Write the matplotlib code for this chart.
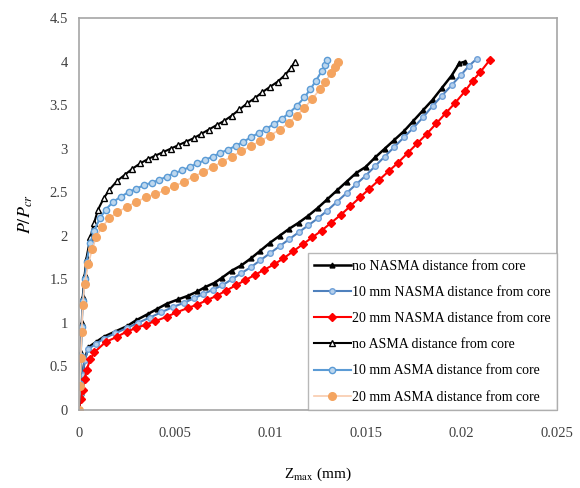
import matplotlib
matplotlib.use("Agg")
import matplotlib.pyplot as plt

plt.rcParams['font.family'] = ['Liberation Serif', 'DejaVu Serif']
plt.rcParams['mathtext.fontset'] = 'stix'

# no NASMA distance from core
x_no_nasma = [0, 0.0001, 0.0002, 0.0003, 0.0005, 0.0009, 0.0013, 0.0019, 0.0025, 0.0030,
              0.0036, 0.0041, 0.0046, 0.0052, 0.0057, 0.0062, 0.0066, 0.0071, 0.0075, 0.0080,
              0.0085, 0.0090, 0.0095, 0.0100, 0.0105, 0.0110, 0.0115, 0.0120, 0.0125, 0.0130,
              0.0135, 0.0140, 0.0145, 0.0150, 0.0155, 0.0160, 0.0165, 0.0170, 0.0175, 0.0180,
              0.0185, 0.0190, 0.0195, 0.0199, 0.0202]
y_no_nasma = [0, 0.2, 0.4, 0.58, 0.72, 0.78, 0.84, 0.9, 0.96, 1.03,
              1.1, 1.16, 1.22, 1.27, 1.31, 1.36, 1.41, 1.46, 1.52, 1.6,
              1.66, 1.74, 1.83, 1.92, 2.0, 2.08, 2.15, 2.23, 2.32, 2.42,
              2.52, 2.62, 2.72, 2.79, 2.9, 3.0, 3.1, 3.2, 3.32, 3.44,
              3.56, 3.7, 3.84, 3.98, 4.0]

# 10 mm NASMA distance from core
x_10_nasma = [0, 0.0001, 0.0002, 0.0003, 0.0005, 0.0009, 0.0013, 0.0019, 0.0025, 0.0031,
              0.0037, 0.0043, 0.0049, 0.0055, 0.0060, 0.0065, 0.0070, 0.0075, 0.0080, 0.0085,
              0.0090, 0.0095, 0.0100, 0.0105, 0.0110, 0.0115, 0.0120, 0.0125, 0.0130, 0.0135,
              0.0140, 0.0145, 0.0150, 0.0155, 0.0160, 0.0165, 0.0170, 0.0175, 0.0180, 0.0185,
              0.0190, 0.0195, 0.0200, 0.0204, 0.0208]
y_10_nasma = [0, 0.2, 0.4, 0.57, 0.7, 0.76, 0.82, 0.88, 0.94, 1.0,
              1.06, 1.12, 1.18, 1.23, 1.28, 1.33, 1.38, 1.43, 1.5, 1.57,
              1.64, 1.72, 1.8, 1.88, 1.96, 2.04, 2.12, 2.2, 2.29, 2.39,
              2.49, 2.59, 2.69, 2.8, 2.91, 3.02, 3.13, 3.24, 3.36, 3.49,
              3.61, 3.73, 3.85, 3.95, 4.03]

# 20 mm NASMA distance from core
x_20_nasma = [0, 0.0001, 0.0002, 0.0003, 0.0004, 0.0006, 0.0008, 0.0014, 0.0020, 0.0025,
              0.0030, 0.0035, 0.0040, 0.0046, 0.0051, 0.0057, 0.0062, 0.0067, 0.0072, 0.0077,
              0.0082, 0.0087, 0.0092, 0.0097, 0.0102, 0.0107, 0.0112, 0.0117, 0.0122, 0.0127,
              0.0132, 0.0137, 0.0142, 0.0147, 0.0152, 0.0157, 0.0162, 0.0167, 0.0172, 0.0177,
              0.0182, 0.0187, 0.0192, 0.0197, 0.0202, 0.0206, 0.0210, 0.0215]
y_20_nasma = [0, 0.12, 0.23, 0.35, 0.46, 0.58, 0.66, 0.78, 0.84, 0.9,
              0.94, 0.98, 1.02, 1.07, 1.12, 1.17, 1.21, 1.26, 1.31, 1.37,
              1.43, 1.49, 1.55, 1.61, 1.67, 1.74, 1.82, 1.9, 1.98, 2.06,
              2.15, 2.24, 2.34, 2.44, 2.54, 2.64, 2.74, 2.84, 2.95, 3.06,
              3.17, 3.29, 3.41, 3.53, 3.66, 3.78, 3.88, 4.02]

# no ASMA distance from core
x_no_asma = [0, 0.00005, 0.0001, 0.00015, 0.0002, 0.0003, 0.0004, 0.0006, 0.0008, 0.0010,
             0.0013, 0.0016, 0.0020, 0.0024, 0.0028, 0.0032, 0.0036, 0.0040, 0.0044, 0.0048,
             0.0052, 0.0056, 0.0060, 0.0064, 0.0068, 0.0072, 0.0076, 0.0080, 0.0084, 0.0088,
             0.0092, 0.0096, 0.0100, 0.0104, 0.0108, 0.0111, 0.0113]
y_no_asma = [0, 0.3, 0.65, 1.0, 1.3, 1.55, 1.75, 1.98, 2.15, 2.3,
             2.43, 2.53, 2.63, 2.7, 2.77, 2.83, 2.88, 2.92, 2.96, 3.0,
             3.04, 3.08, 3.12, 3.17, 3.22, 3.27, 3.32, 3.38, 3.45, 3.52,
             3.58, 3.65, 3.71, 3.77, 3.85, 3.93, 4.0]

# 10 mm ASMA distance from core
x_10_asma = [0, 0.00005, 0.0001, 0.00015, 0.0002, 0.0003, 0.0004, 0.0006, 0.0008, 0.0011,
             0.0014, 0.0018, 0.0022, 0.0026, 0.0030, 0.0034, 0.0038, 0.0042, 0.0046, 0.0050,
             0.0054, 0.0058, 0.0062, 0.0066, 0.0070, 0.0074, 0.0078, 0.0082, 0.0086, 0.0090,
             0.0094, 0.0098, 0.0102, 0.0106, 0.0110, 0.0114, 0.0118, 0.0121, 0.0124, 0.0127,
             0.0129, 0.0130]
y_10_asma = [0, 0.3, 0.62, 0.95, 1.25, 1.5, 1.7, 1.92, 2.06, 2.2,
             2.3, 2.39, 2.45, 2.5, 2.54, 2.58, 2.61, 2.64, 2.68, 2.72,
             2.75, 2.79, 2.83, 2.87, 2.91, 2.95, 2.99, 3.03, 3.08, 3.13,
             3.18, 3.23, 3.28, 3.34, 3.41, 3.49, 3.59, 3.68, 3.78, 3.89,
             3.96, 4.02]

# 20 mm ASMA distance from core
x_20_asma = [0, 0.00005, 0.0001, 0.00015, 0.0002, 0.0003, 0.0005, 0.0007, 0.0009, 0.0012,
             0.0016, 0.0020, 0.0025, 0.0030, 0.0035, 0.0040, 0.0045, 0.0050, 0.0055, 0.0060,
             0.0065, 0.0070, 0.0075, 0.0080, 0.0085, 0.0090, 0.0095, 0.0100, 0.0105, 0.0110,
             0.0114, 0.0118, 0.0122, 0.0126, 0.0129, 0.0132, 0.0134, 0.01355]
y_20_asma = [0, 0.27, 0.6, 0.9, 1.2, 1.45, 1.68, 1.85, 1.98, 2.1,
             2.2, 2.27, 2.33, 2.39, 2.44, 2.48, 2.52, 2.57, 2.62, 2.68,
             2.73, 2.79, 2.85, 2.91, 2.97, 3.03, 3.09, 3.15, 3.22, 3.3,
             3.38, 3.47, 3.57, 3.68, 3.77, 3.87, 3.94, 4.0]

x_ticks = [0, 0.005, 0.01, 0.015, 0.02, 0.025]
x_tick_labels = ['0', '0.005', '0.01', '0.015', '0.02', '0.025']
y_ticks = [0, 0.5, 1, 1.5, 2, 2.5, 3, 3.5, 4, 4.5]
y_tick_labels = ['0', '0.5', '1', '1.5', '2', '2.5', '3', '3.5', '4', '4.5']

fig = plt.figure(figsize=(5.8, 4.88), dpi=100)
ax = fig.add_axes([0.136, 0.160, 0.824, 0.803])

ax.plot(x_no_nasma, y_no_nasma, color='black', lw=1.8, marker='^', ms=3.5,
        label='no NASMA distance from core')
ax.plot(x_10_nasma, y_10_nasma, color='#4F81BD', lw=1.5, marker='o', ms=4,
        mfc='#B4CFEC', mec='#6FA0D8', label='10 mm NASMA distance from core')
ax.plot(x_20_nasma, y_20_nasma, color='#FF0000', lw=1.5, marker='D', ms=4.5,
        mfc='#FF0000', mec='#FF0000', label='20 mm NASMA distance from core')
ax.plot(x_no_asma, y_no_asma, color='black', lw=1.5, marker='^', ms=5,
        mfc='white', mec='black', label='no ASMA distance from core')
ax.plot(x_10_asma, y_10_asma, color='#5B9BD5', lw=1.5, marker='o', ms=4.5,
        mfc='#BDD7EE', mec='#5B9BD5', label='10 mm ASMA distance from core')
ax.plot(x_20_asma, y_20_asma, color='#F8CBAD', lw=1.2, marker='o', ms=5.5,
        mfc='#F4A460', mec='#F4A460', label='20 mm ASMA distance from core')

ax.set_xlim(0, 0.025)
ax.set_ylim(0, 4.5)
ax.set_xticks(x_ticks)
ax.set_xticklabels(x_tick_labels)
ax.set_yticks(y_ticks)
ax.set_yticklabels(y_tick_labels)
ax.tick_params(length=0, labelsize=10.5, colors='#404040', pad=8)
ax.tick_params(axis='x', pad=12)

for s in ax.spines.values():
    s.set_color('#A6A6A6')
    s.set_linewidth(1.2)

ax.set_xlabel(r'Z$_{\rm max}$ (mm)', fontsize=11, labelpad=19)
ax.set_ylabel(r'$P/P_{cr}$', fontsize=13, labelpad=10)

leg = ax.legend(loc='lower right', bbox_to_anchor=(1.0, 0.0), borderaxespad=0,
                fontsize=10, frameon=True, fancybox=False, edgecolor='#A6A6A6',
                handlelength=2.6, handletextpad=0.1, labelspacing=0.95,
                borderpad=0.45)
leg.get_frame().set_linewidth(1.0)

fig.savefig('out.png', dpi=100)
